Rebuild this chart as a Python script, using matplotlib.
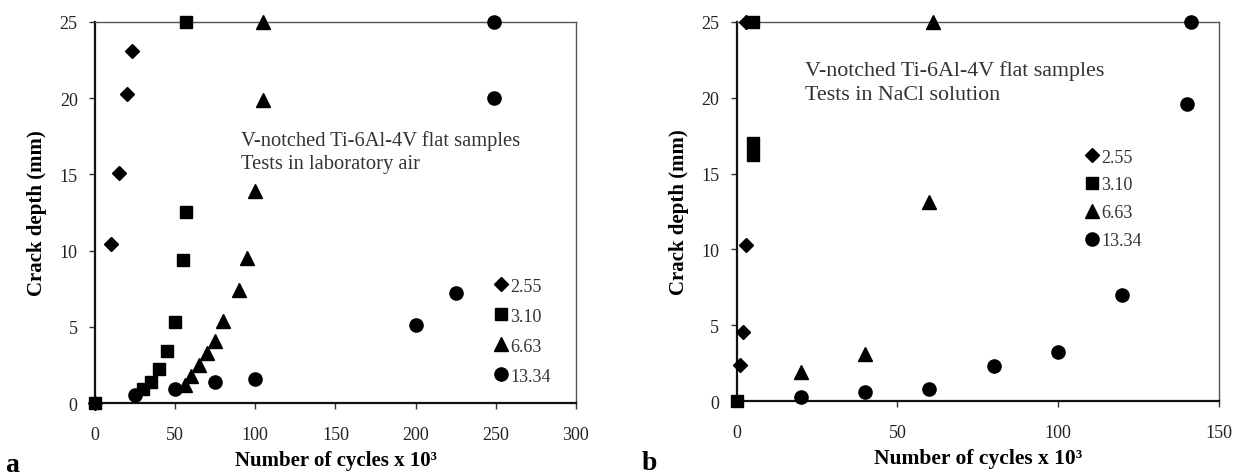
import matplotlib.pyplot as plt

plt.rcParams["font.family"] = ["Liberation Serif", "DejaVu Serif"]

LABELS = ["2.55", "3.10", "6.63", "13.34"]
MARKERS = ["D", "s", "^", "o"]
MSIZE = [7.5, 9, 9.5, 9.5]

# panel a: laboratory air
air_x = [
    [0, 10, 15, 20, 23],
    [0, 30, 35, 40, 45, 50, 55, 57, 57],
    [56, 60, 65, 70, 75, 80, 90, 95, 100, 105, 105],
    [25, 50, 75, 100, 200, 225, 249, 249],
]
air_y = [
    [0, 10.4, 15.1, 20.3, 23.1],
    [0, 0.9, 1.4, 2.2, 3.4, 5.3, 9.35, 12.5, 25],
    [1.2, 1.8, 2.5, 3.3, 4.1, 5.4, 7.4, 9.5, 13.9, 19.9, 25],
    [0.5, 0.95, 1.35, 1.55, 5.1, 7.2, 20, 25],
]

# panel b: NaCl solution
nacl_x = [
    [1, 2, 3, 2.8],
    [0, 5, 5, 5],
    [20, 40, 60, 61],
    [20, 40, 60, 80, 100, 120, 140, 141.5],
]
nacl_y = [
    [2.35, 4.55, 10.3, 25],
    [0, 16.2, 17.0, 25],
    [1.9, 3.1, 13.1, 25],
    [0.25, 0.6, 0.8, 2.3, 3.25, 7.0, 19.6, 25],
]


def style_axes(ax, xmax, xstep, lblsize):
    ax.set_xlim(0, xmax)
    ax.set_ylim(0, 25)
    ax.set_xticks(range(0, xmax + 1, xstep))
    ax.set_yticks(range(0, 26, 5))
    ax.tick_params(direction="out", length=4, width=1, labelsize=13,
                   colors="#333333", labelcolor="#222222")
    ax.tick_params(axis="x", pad=12.5)
    ax.tick_params(axis="y", pad=8.5)
    for s in ("left", "bottom"):
        ax.spines[s].set_linewidth(1.6)
        ax.spines[s].set_color("#111111")
    for s in ("top", "right"):
        ax.spines[s].set_linewidth(1.0)
        ax.spines[s].set_color("#555555")
    ax.set_xlabel("Number of cycles x 10³", fontsize=lblsize, fontweight="bold",
                  labelpad=5)
    ax.set_ylabel("Crack depth (mm)", fontsize=15, fontweight="bold",
                  labelpad=9)


def draw_series(ax, xs, ys):
    for x, y, m, ms, lab in zip(xs, ys, MARKERS, MSIZE, LABELS):
        ax.plot(x, y, linestyle="none", marker=m, markersize=ms, color="black",
                label=lab, clip_on=False, zorder=3)


fig = plt.figure(figsize=(12.36, 4.77), dpi=100)
ax1 = fig.add_axes([0.0769, 0.153, 0.389, 0.799])
ax2 = fig.add_axes([0.596, 0.157, 0.390, 0.795])

draw_series(ax1, air_x, air_y)
style_axes(ax1, 300, 50, 15)
ax1.text(0.304, 0.716, "V-notched Ti-6Al-4V flat samples\nTests in laboratory air",
         transform=ax1.transAxes, fontsize=14.8, va="top", ha="left",
         color="#333333", linespacing=1.3)
ax1.legend(loc="upper left", bbox_to_anchor=(0.83, 0.329), frameon=False,
           handlelength=0.8, handletextpad=0.1, borderpad=0, borderaxespad=0,
           labelspacing=0.72, fontsize=13, labelcolor="#333333")

draw_series(ax2, nacl_x, nacl_y)
style_axes(ax2, 150, 50, 15.5)
ax2.text(0.141, 0.899, "V-notched Ti-6Al-4V flat samples\nTests in NaCl solution",
         transform=ax2.transAxes, fontsize=15.8, va="top", ha="left",
         color="#333333", linespacing=1.32)
ax2.legend(loc="upper left", bbox_to_anchor=(0.722, 0.666), frameon=False,
           handlelength=0.8, handletextpad=0.1, borderpad=0, borderaxespad=0,
           labelspacing=0.6, fontsize=13, labelcolor="#333333")

fig.text(0.004, 0.0105, "a", fontsize=20, fontweight="bold")
fig.text(0.519, 0.0147, "b", fontsize=20, fontweight="bold")

fig.savefig("out.png", dpi=100)
